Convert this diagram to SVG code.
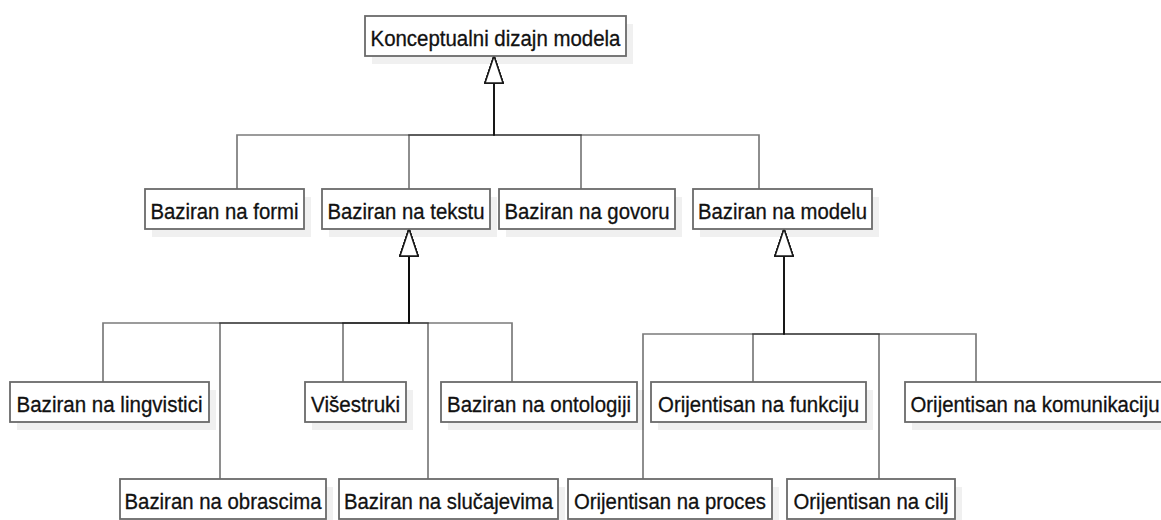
<svg xmlns="http://www.w3.org/2000/svg" width="1161" height="520" viewBox="0 0 1161 520">
  <style>
    .box { fill: #ffffff; stroke: #6a6a6a; stroke-width: 1.8; }
    .shadow { fill: #f0f0f0; stroke: none; }
    .label { font-family: "Liberation Sans", Arial, sans-serif; font-size: 21.5px; fill: #111111; stroke: #111111; stroke-width: 0.3; text-anchor: middle; }
    .edge { fill: none; stroke: #000000; stroke-width: 1.7; stroke-opacity: 0.52; marker-end: url(#inherit); }
  </style>
  <defs>
    <!-- hollow generalisation triangle, tip on the parent's border -->
    <marker id="inherit" markerUnits="userSpaceOnUse" markerWidth="30" markerHeight="22" refX="27" refY="10" orient="auto" overflow="visible">
      <path d="M0,1 L27,10 L0,19 Z" fill="#ffffff" stroke="#1a1a1a" stroke-width="1.5"/>
    </marker>
  </defs>

  <rect width="1161" height="520" fill="#ffffff"/>

  <!-- drop shadows -->
  <g id="shadows">
    <rect class="shadow" x="372" y="24" width="261" height="40"/>
    <rect class="shadow" x="152" y="197" width="159" height="40"/>
    <rect class="shadow" x="329" y="197" width="168" height="40"/>
    <rect class="shadow" x="506" y="197" width="176" height="40"/>
    <rect class="shadow" x="700" y="197" width="179" height="40"/>
    <rect class="shadow" x="17" y="390" width="199" height="40"/>
    <rect class="shadow" x="312" y="390" width="101" height="40"/>
    <rect class="shadow" x="448" y="390" width="196" height="40"/>
    <rect class="shadow" x="658" y="390" width="215" height="40"/>
    <rect class="shadow" x="912" y="390" width="260" height="40"/>
    <rect class="shadow" x="127" y="487" width="206" height="40"/>
    <rect class="shadow" x="346" y="487" width="219" height="40"/>
    <rect class="shadow" x="575" y="487" width="204" height="40"/>
    <rect class="shadow" x="794" y="487" width="168" height="40"/>
  </g>

  <!-- generalisation connectors -->
  <g id="connectors">
    <path class="edge" d="M237,189 V135 H494 V56"/>
    <path class="edge" d="M409,189 V135 H494 V56"/>
    <path class="edge" d="M581,189 V135 H494 V56"/>
    <path class="edge" d="M759,189 V135 H494 V56"/>

    <path class="edge" d="M103,382 V323 H409 V229"/>
    <path class="edge" d="M220,479 V323 H409 V229"/>
    <path class="edge" d="M343,382 V323 H409 V229"/>
    <path class="edge" d="M428,479 V323 H409 V229"/>
    <path class="edge" d="M512,382 V323 H409 V229"/>

    <path class="edge" d="M643,479 V334 H784 V229"/>
    <path class="edge" d="M753,382 V334 H784 V229"/>
    <path class="edge" d="M879,479 V334 H784 V229"/>
    <path class="edge" d="M976,382 V334 H784 V229"/>
  </g>

  <g id="konceptualni-dizajn-modela">
    <rect class="box" x="365" y="16" width="261" height="40"/>
    <text class="label" x="495.5" y="45.5" textLength="250" lengthAdjust="spacingAndGlyphs">Konceptualni dizajn modela</text>
  </g>

  <g id="baziran-na-formi">
    <rect class="box" x="145" y="189" width="159" height="40"/>
    <text class="label" x="224.5" y="218.5" textLength="148" lengthAdjust="spacingAndGlyphs">Baziran na formi</text>
  </g>
  <g id="baziran-na-tekstu">
    <rect class="box" x="322" y="189" width="168" height="40"/>
    <text class="label" x="406" y="218.5" textLength="157" lengthAdjust="spacingAndGlyphs">Baziran na tekstu</text>
  </g>
  <g id="baziran-na-govoru">
    <rect class="box" x="499" y="189" width="176" height="40"/>
    <text class="label" x="587" y="218.5" textLength="165" lengthAdjust="spacingAndGlyphs">Baziran na govoru</text>
  </g>
  <g id="baziran-na-modelu">
    <rect class="box" x="693" y="189" width="179" height="40"/>
    <text class="label" x="782.5" y="218.5" textLength="169" lengthAdjust="spacingAndGlyphs">Baziran na modelu</text>
  </g>

  <g id="baziran-na-lingvistici">
    <rect class="box" x="10" y="382" width="199" height="40"/>
    <text class="label" x="109.5" y="411.5" textLength="186" lengthAdjust="spacingAndGlyphs">Baziran na lingvistici</text>
  </g>
  <g id="visestruki">
    <rect class="box" x="305" y="382" width="101" height="40"/>
    <text class="label" x="355.5" y="411.5" textLength="89" lengthAdjust="spacingAndGlyphs">Višestruki</text>
  </g>
  <g id="baziran-na-ontologiji">
    <rect class="box" x="441" y="382" width="196" height="40"/>
    <text class="label" x="539" y="411.5" textLength="184" lengthAdjust="spacingAndGlyphs">Baziran na ontologiji</text>
  </g>
  <g id="orijentisan-na-funkciju">
    <rect class="box" x="651" y="382" width="215" height="40"/>
    <text class="label" x="758.5" y="411.5" textLength="201" lengthAdjust="spacingAndGlyphs">Orijentisan na funkciju</text>
  </g>
  <g id="orijentisan-na-komunikaciju">
    <rect class="box" x="905" y="382" width="260" height="40"/>
    <text class="label" x="1035" y="411.5" textLength="249" lengthAdjust="spacingAndGlyphs">Orijentisan na komunikaciju</text>
  </g>

  <g id="baziran-na-obrascima">
    <rect class="box" x="120" y="479" width="206" height="40"/>
    <text class="label" x="223" y="508.5" textLength="197" lengthAdjust="spacingAndGlyphs">Baziran na obrascima</text>
  </g>
  <g id="baziran-na-slucajevima">
    <rect class="box" x="339" y="479" width="219" height="40"/>
    <text class="label" x="448.5" y="508.5" textLength="209" lengthAdjust="spacingAndGlyphs">Baziran na slučajevima</text>
  </g>
  <g id="orijentisan-na-proces">
    <rect class="box" x="568" y="479" width="204" height="40"/>
    <text class="label" x="670" y="508.5" textLength="192" lengthAdjust="spacingAndGlyphs">Orijentisan na proces</text>
  </g>
  <g id="orijentisan-na-cilj">
    <rect class="box" x="787" y="479" width="168" height="40"/>
    <text class="label" x="871" y="508.5" textLength="155" lengthAdjust="spacingAndGlyphs">Orijentisan na cilj</text>
  </g>
</svg>
